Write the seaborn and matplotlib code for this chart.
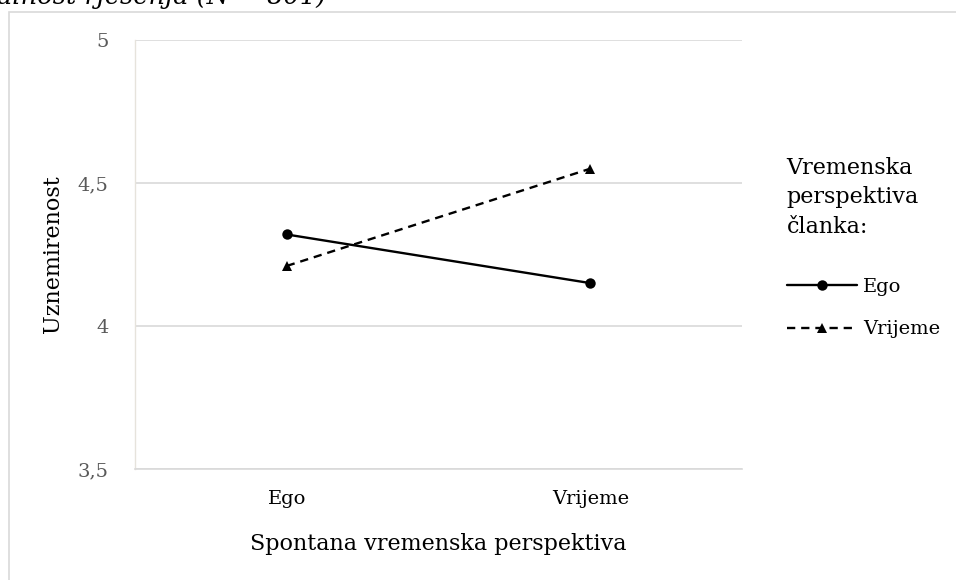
import matplotlib
matplotlib.use("Agg")
import matplotlib.pyplot as plt
import seaborn as sns
import pandas as pd
from matplotlib.patches import Rectangle
from matplotlib.ticker import FuncFormatter

# podaci
x_categories = ["Ego", "Vrijeme"]
series_names = ["Ego", "Vrijeme"]
ego_values = [4.32, 4.15]
vrijeme_values = [4.21, 4.55]
y_ticks = [3.5, 4, 4.5, 5]

data = pd.DataFrame({
    "Spontana": x_categories * 2,
    "Clanak": [series_names[0]] * 2 + [series_names[1]] * 2,
    "Uznemirenost": ego_values + vrijeme_values,
})

sns.set_theme(style="white")
plt.rcParams["font.family"] = ["DejaVu Serif"]
plt.rcParams["text.color"] = "black"
plt.rcParams["axes.labelcolor"] = "black"

fig = plt.figure(figsize=(9.56, 5.8), dpi=100)
ax = fig.add_axes([135 / 956, 1 - 469 / 580, (742 - 135) / 956, (469 - 40) / 580])

# okvir grafikona
fig.patches.append(Rectangle((9 / 956, -0.1), 2, 1 - 12 / 580 + 0.1, transform=fig.transFigure,
                             fill=False, edgecolor="#d9d9d9", linewidth=1.2, zorder=0))

sns.lineplot(data=data, x="Spontana", y="Uznemirenost", hue="Clanak", style="Clanak",
             palette={"Ego": "black", "Vrijeme": "black"},
             markers={"Ego": "o", "Vrijeme": "^"},
             dashes={"Ego": "", "Vrijeme": (3.5, 2.5)},
             linewidth=1.7, markersize=7.5, markeredgewidth=0, ax=ax)

ax.set_xlim(-0.5, 1.5)
ax.set_ylim(3.5, 5)
ax.set_yticks(y_ticks)
ax.yaxis.set_major_formatter(FuncFormatter(lambda v, p: f"{v:g}".replace(".", ",")))
ax.grid(axis="y", color="#d9d9d9", linewidth=1.2)
ax.grid(axis="x", visible=False)
for s in ["top", "right"]:
    ax.spines[s].set_visible(False)
ax.spines["bottom"].set_color("#d9d9d9")
ax.spines["bottom"].set_linewidth(1.2)
ax.spines["left"].set_color("#e6e3dc")
ax.spines["left"].set_linewidth(1.0)
ax.tick_params(axis="y", length=0, pad=19, labelsize=14, labelcolor="#595959")
ax.tick_params(axis="x", length=0, pad=15, labelsize=14, labelcolor="black")
ax.set_xlabel("Spontana vremenska perspektiva", fontsize=16, labelpad=18)
ax.set_ylabel("Uznemirenost", fontsize=16, labelpad=10)

handles, labels = ax.get_legend_handles_labels()
ax.get_legend().remove()
leg = fig.legend(handles, labels, title="Vremenska\nperspektiva\nčlanka:",
                 loc="upper left", bbox_to_anchor=(769 / 956, 1 - 139 / 580),
                 frameon=False, fontsize=14, title_fontsize=16, handlelength=3.6,
                 handletextpad=0.35, labelspacing=1.25, alignment="left")
leg.get_title().set_linespacing(1.45)
leg._legend_box.sep = 29

fig.text(-3 / 956, 1 - 4 / 580, "alnost rješenja (N = 801)", fontsize=18.5, style="italic",
         ha="left", va="baseline")

fig.savefig("out.png", dpi=100)
